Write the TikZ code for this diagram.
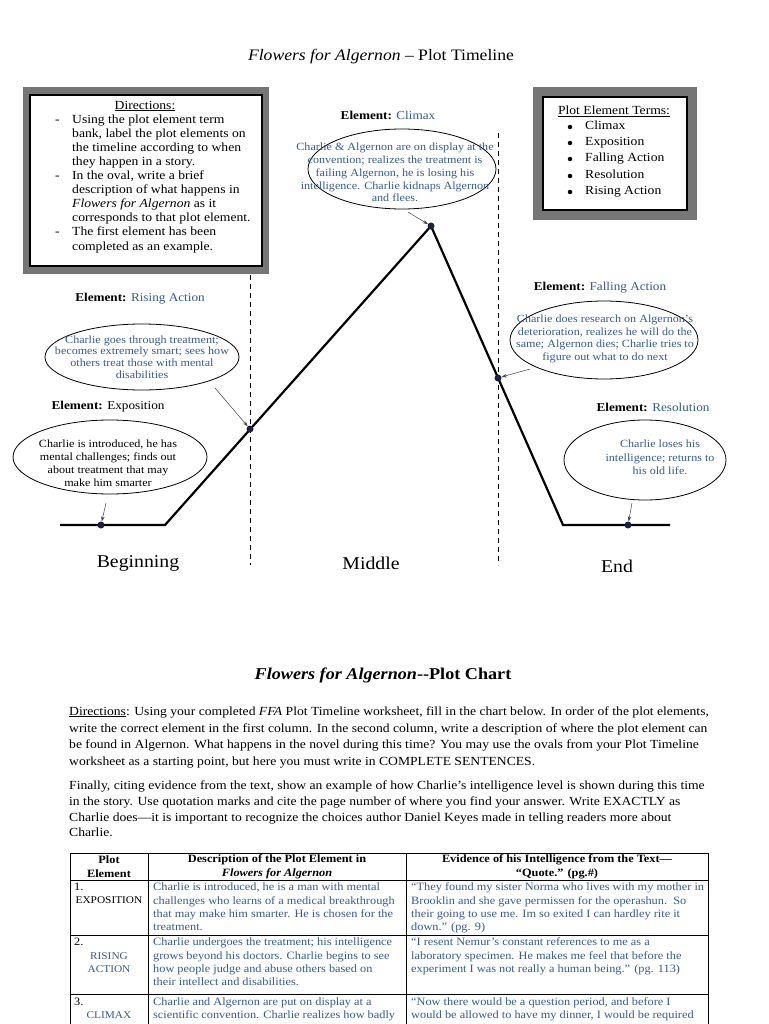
\documentclass[tikz,border=0pt]{standalone}
\usepackage{fontspec}
\setmainfont{Liberation Serif}[FakeStretch=1.1]
\usetikzlibrary{shapes.geometric,arrows.meta}
\definecolor{tblue}{RGB}{55,90,150}
\definecolor{framegray}{RGB}{118,118,118}
\definecolor{dotc}{RGB}{25,35,65}
\begin{document}
\begin{tikzpicture}[x=1pt,y=-1pt,
  elabel/.style={inner sep=0pt, font=\fontsize{12}{14}\selectfont},
  oval/.style={draw=black, line width=0.8pt, ellipse, inner sep=0pt},
  otext/.style={text=tblue, align=center, inner sep=0pt},
  arr/.style={-{Stealth[length=5pt,width=3.5pt]}, line width=0.5pt, draw=black!75},
  dashv/.style={dash pattern=on 5pt off 4pt, line width=0.9pt},
  plotdot/.style={circle, fill=dotc, inner sep=0pt, minimum size=7pt},
  dline/.style={anchor=west, inner sep=0pt, text height=8.5pt, text depth=2.5pt, font=\fontsize{12.4}{14}\selectfont},
  tline/.style={anchor=west, inner sep=0pt, text height=8pt, text depth=2.5pt, font=\fontsize{11.2}{13}\selectfont},
  tcell/.style={tline, text=tblue},
  ccell/.style={anchor=center, inner sep=0pt, text height=8pt, text depth=2.5pt, font=\fontsize{10.3}{13}\selectfont},
  pline/.style={anchor=west, inner sep=0pt, text height=8.5pt, text depth=2.5pt, font=\fontsize{12.4}{14}\selectfont},
  bigl/.style={inner sep=0pt, font=\fontsize{18}{20}\selectfont}]
\useasboundingbox (0,0) rectangle (768,1024);
\fill[white] (0,0) rectangle (768,1024);

% title
\node[inner sep=0pt, font=\fontsize{16}{19}\selectfont] (title) at (381,57) {\textit{Flowers for Algernon} -- Plot Timeline};

% directions box
\filldraw[fill=framegray, draw=black!55, line width=0.6pt] (23,87) rectangle (268,273);
\filldraw[fill=white, draw=black, line width=1.2pt] (30,95) rectangle (262,266);
\node[inner sep=0pt, font=\fontsize{12.4}{14}\selectfont] (dirhead) at (145,106) {\underline{Directions:}};
\node[dline] (dd1) at (55,121) {-};
\node[dline] (dd2) at (55,177) {-};
\node[dline] (dd3) at (55,233) {-};
\node[dline] (dl1) at (72,121) {Using the plot element term};
\node[dline] (dl2) at (72,135) {bank, label the plot elements on};
\node[dline] (dl3) at (72,149) {the timeline according to when};
\node[dline] (dl4) at (72,163) {they happen in a story.};
\node[dline] (dl5) at (72,177) {In the oval, write a brief};
\node[dline] (dl6) at (72,191) {description of what happens in};
\node[dline] (dl7) at (72,205) {\textit{Flowers for Algernon} as it};
\node[dline] (dl8) at (72,219) {corresponds to that plot element.};
\node[dline] (dl9) at (72,233) {The first element has been};
\node[dline] (dl10) at (72,247) {completed as an example.};

% terms box
\filldraw[fill=framegray, draw=black!55, line width=0.6pt] (533,87) rectangle (696,219);
\filldraw[fill=white, draw=black, line width=1.2pt] (543,97) rectangle (687,210);
\node[inner sep=0pt, font=\fontsize{12.4}{14}\selectfont] (termhead) at (614,111) {\underline{Plot Element Terms:}};
\foreach \yy/\tt [count=\i] in {127/Climax,143/Exposition,159/Falling Action,176/Resolution,192/Rising Action}{
  \node[circle, fill=black, inner sep=0pt, minimum size=4.5pt] (tb\i) at (570,\yy) {};
  \node[dline] (tt\i) at (585,\yy) {\tt};
}

% timeline
\coordinate (p0) at (60,525);
\coordinate (p1) at (165,525);
\coordinate (pk) at (431,226);
\coordinate (p3) at (563,525);
\coordinate (p4) at (670,525);
\coordinate (v1a) at (250,275);
\coordinate (v1b) at (250,565);
\coordinate (v2a) at (498,133);
\coordinate (v2b) at (498,565);
\draw[dashv] (v1a) -- (v1b);
\draw[dashv] (v2a) -- (v2b);
\draw[line width=2.2pt, line join=miter] (p0) -- (p1) -- (pk) -- (p3) -- (p4);
\node[plotdot] (dexpo) at (101,525) {};
\node[plotdot] (drise) at (250,429) {};
\node[plotdot] (dclimax) at (431,226) {};
\node[plotdot] (dfall) at (498,378) {};
\node[plotdot] (dres) at (628,525) {};

% element labels
\node[elabel] (lclimax) at (388,115) {\textbf{Element:} \textcolor{tblue}{Climax}};
\node[elabel] (lrise) at (140,299) {\textbf{Element:} \textcolor{tblue}{Rising Action}};
\node[elabel] (lexpo) at (108,407) {\textbf{Element:} Exposition};
\node[elabel] (lfall) at (600,288) {\textbf{Element:} \textcolor{tblue}{Falling Action}};
\node[elabel] (lres) at (653,407) {\textbf{Element:} \textcolor{tblue}{Resolution}};

% ovals
\node[oval, minimum width=188pt, minimum height=80pt] (oclimax) at (402,169) {};
\node[oval, minimum width=194pt, minimum height=66pt] (orise) at (142,357) {};
\node[oval, minimum width=194pt, minimum height=74pt] (oexpo) at (110,457) {};
\node[oval, minimum width=188pt, minimum height=78pt] (ofall) at (604,340) {};
\node[oval, minimum width=162pt, minimum height=80pt] (ores) at (645,460) {};

\node[otext, font=\fontsize{11}{12.8}\selectfont] (tclimax) at (395,172.5) {Charlie \& Algernon are on display at the\\convention; realizes the treatment is\\failing Algernon, he is losing his\\intelligence. Charlie kidnaps Algernon\\and flees.};
\node[otext, font=\fontsize{11}{11.8}\selectfont] (trise) at (142,357) {Charlie goes through treatment;\\becomes extremely smart; sees how\\others treat those with mental\\disabilities};
\node[otext, text=black, font=\fontsize{11}{13}\selectfont] (texpo) at (108,463) {Charlie is introduced, he has\\mental challenges; finds out\\about treatment that may\\make him smarter};
\node[otext, font=\fontsize{11}{12.7}\selectfont] (tfall) at (605,339) {Charlie does research on Algernon’s\\deterioration, realizes he will do the\\same; Algernon dies; Charlie tries to\\figure out what to do next};
\node[otext, font=\fontsize{11}{13.3}\selectfont] (tres) at (660,457.5) {Charlie loses his\\intelligence; returns to\\his old life.};

% arrows
\coordinate (aclimax) at (408,212);
\coordinate (arise) at (215,388);
\coordinate (aexpo) at (106,503);
\coordinate (afall) at (530,369);
\coordinate (ares) at (632,503);
\draw[arr] (aclimax) -- (dclimax);
\draw[arr] (arise) -- (drise);
\draw[arr] (aexpo) -- (dexpo);
\draw[arr] (afall) -- (dfall);
\draw[arr] (ares) -- (dres);

% section labels
\node[bigl] (beg) at (138,563) {Beginning};
\node[bigl] (mid) at (371,563) {Middle};
\node[bigl] (endl) at (617,566) {End};

% plot chart
\node[inner sep=0pt, font=\fontsize{16.5}{19}\selectfont\bfseries] (ctitle) at (383,675) {\textit{Flowers for Algernon}-{}-Plot Chart};
\node[pline] (c1) at (69,712) {\underline{Directions}: Using your completed \textit{FFA} Plot Timeline worksheet, fill in the chart below. In order of the plot elements,};
\node[pline] (c2) at (69,729) {write the correct element in the first column. In the second column, write a description of where the plot element can};
\node[pline] (c3) at (69,745) {be found in Algernon. What happens in the novel during this time? You may use the ovals from your Plot Timeline};
\node[pline] (c4) at (69,762) {worksheet as a starting point, but here you must write in COMPLETE SENTENCES.};
\node[pline] (c5) at (69,786) {Finally, citing evidence from the text, show an example of how Charlie’s intelligence level is shown during this time};
\node[pline] (c6) at (69,802) {in the story. Use quotation marks and cite the page number of where you find your answer. Write EXACTLY as};
\node[pline] (c7) at (69,818) {Charlie does—it is important to recognize the choices author Daniel Keyes made in telling readers more about};
\node[pline] (c8) at (69,833) {Charlie.};

% table
\draw[line width=0.9pt] (70,1030) -- (70,853) -- (708,853) -- (708,1030);
\draw[line width=0.9pt] (148,853) -- (148,1030);
\draw[line width=0.9pt] (406,853) -- (406,1030);
\draw[line width=0.9pt] (70,880) -- (708,880);
\draw[line width=0.9pt] (70,935) -- (708,935);
\draw[line width=0.9pt] (70,994) -- (708,994);

\node[inner sep=0pt, align=center, font=\fontsize{11.2}{14}\selectfont\bfseries] (h1) at (109,867) {Plot\\Element};
\node[inner sep=0pt, align=center, font=\fontsize{11.2}{14}\selectfont\bfseries] (h2) at (277,867) {Description of the Plot Element in\\\textit{Flowers for Algernon}};
\node[inner sep=0pt, align=center, font=\fontsize{11.2}{14}\selectfont\bfseries] (h3) at (557,867) {Evidence of his Intelligence from the Text—\\“Quote.” (pg.\#)};

\node[tline] (n1) at (74,888) {1.};
\node[ccell] (e1) at (109,901) {EXPOSITION};
\node[tline] (n2) at (74,943) {2.};
\node[ccell, text=tblue] (e2a) at (109,957) {RISING};
\node[ccell, text=tblue] (e2b) at (109,970) {ACTION};
\node[tline] (n3) at (74,1003) {3.};
\node[ccell, text=tblue] (e3) at (109,1016) {CLIMAX};

\node[tcell] (r1a) at (153,888) {Charlie is introduced, he is a man with mental};
\node[tcell] (r1b) at (153,902) {challenges who learns of a medical breakthrough};
\node[tcell] (r1c) at (153,915) {that may make him smarter. He is chosen for the};
\node[tcell] (r1d) at (153,928) {treatment.};
\node[tcell] (r2a) at (153,943) {Charlie undergoes the treatment; his intelligence};
\node[tcell] (r2b) at (153,957) {grows beyond his doctors. Charlie begins to see};
\node[tcell] (r2c) at (153,970) {how people judge and abuse others based on};
\node[tcell] (r2d) at (153,983) {their intellect and disabilities.};
\node[tcell] (r3a) at (153,1003) {Charlie and Algernon are put on display at a};
\node[tcell] (r3b) at (153,1016) {scientific convention. Charlie realizes how badly};

\node[tcell] (q1a) at (411,888) {“They found my sister Norma who lives with my mother in};
\node[tcell] (q1b) at (411,902) {Brooklin and she gave permissen for the operashun.\ \ So};
\node[tcell] (q1c) at (411,915) {their going to use me. Im so exited I can hardley rite it};
\node[tcell] (q1d) at (411,928) {down.” (pg. 9)};
\node[tcell] (q2a) at (411,943) {“I resent Nemur’s constant references to me as a};
\node[tcell] (q2b) at (411,957) {laboratory specimen. He makes me feel that before the};
\node[tcell] (q2c) at (411,970) {experiment I was not really a human being.” (pg. 113)};
\node[tcell] (q3a) at (411,1003) {“Now there would be a question period, and before I};
\node[tcell] (q3b) at (411,1016) {would be allowed to have my dinner, I would be required};
\end{tikzpicture}
\end{document}
